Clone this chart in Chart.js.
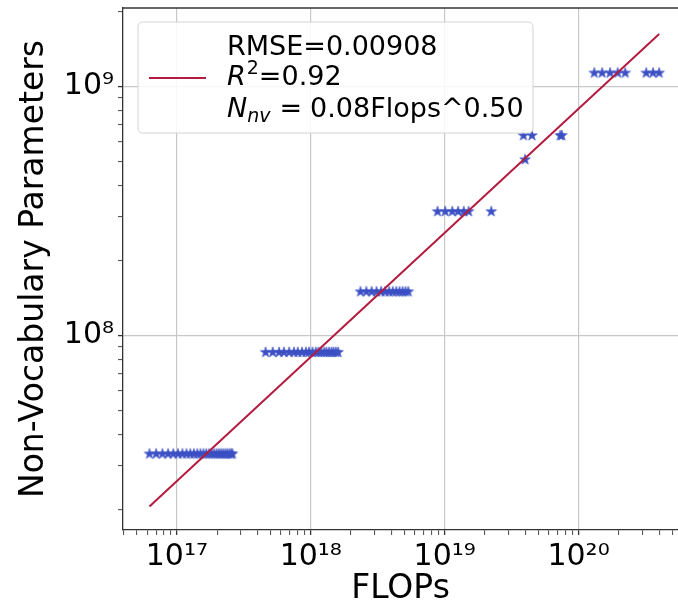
<!DOCTYPE html>
<html>
<head>
<meta charset="utf-8">
<script src="https://cdn.jsdelivr.net/npm/chart.js@4.4.1/dist/chart.umd.min.js"></script>
<style>
html,body{margin:0;padding:0;overflow:hidden;background:#ffffff;}
canvas{display:block;}
</style>
</head>
<body>
<canvas id="c" width="678" height="608"></canvas>
<script>
// ---- data (FLOPs, non-vocabulary parameters) ----
const flopsAt33M   = [6.24e16, 7.0e16, 7.8e16, 8.6e16, 9.4e16, 1.02e17, 1.10e17, 1.18e17, 1.26e17, 1.34e17, 1.42e17, 1.50e17, 1.58e17, 1.66e17, 1.74e17, 1.82e17, 1.90e17, 1.98e17, 2.06e17, 2.14e17, 2.22e17, 2.30e17, 2.38e17, 2.46e17, 2.54e17, 2.60e17];
const flopsAt86M   = [4.6e17, 5.2e17, 5.8e17, 6.3e17, 6.9e17, 7.5e17, 8.0e17, 8.6e17, 9.2e17, 9.7e17, 1.03e18, 1.09e18, 1.14e18, 1.20e18, 1.26e18, 1.31e18, 1.37e18, 1.43e18, 1.48e18, 1.54e18, 1.60e18];
const flopsAt150M  = [2.35e18, 2.6e18, 2.85e18, 3.1e18, 3.35e18, 3.6e18, 3.85e18, 4.1e18, 4.35e18, 4.6e18, 4.85e18, 5.1e18, 5.35e18];
const flopsAt315M  = [8.85e18, 1.01e19, 1.14e19, 1.26e19, 1.39e19, 1.51e19, 2.23e19];
const flopsAt640M  = [3.88e19, 4.49e19, 7.3e19, 7.5e19];
const flopsAt510M  = [3.99e19];
const flopsAt1135M = [1.31e20, 1.50e20, 1.72e20, 1.96e20, 2.23e20, 3.2e20, 3.6e20, 4.0e20];
const paramLevels  = [3.35e7, 8.57e7, 1.50e8, 3.15e8, 6.36e8, 5.09e8, 1.135e9];
const flopsGroups  = [flopsAt33M, flopsAt86M, flopsAt150M, flopsAt315M, flopsAt640M, flopsAt510M, flopsAt1135M];

// fitted line end points
const fitFlops  = [6.24e16, 4.0e20];
const fitParams = [2.05e7, 1.62e9];

// tick labels
const xMajorExponents = [17, 18, 19, 20];
const xTickLabels = ['10\u00B9\u2077', '10\u00B9\u2078', '10\u00B9\u2079', '10\u00B2\u2070'];
const yMajorExponents = [8, 9];
const yTickLabels = ['10\u2078', '10\u2079'];

const legendLines = ['RMSE=0.00908', 'R', '2', '=0.92', 'N', 'nv', '=', '0.08Flops^0.50'];

// ---- build datasets ----
const starPoints = [];
flopsGroups.forEach((g, i) => g.forEach(f => starPoints.push({x: f, y: paramLevels[i]})));
const fitPoints = fitFlops.map((f, i) => ({x: f, y: fitParams[i]}));

const STAR_COLOR = '#3c50c4';
const LINE_COLOR = '#b31b3f';
const GRID_COLOR = '#c8c8c8';
const AXIS_COLOR = '#333333';

function makeStar(color, R) {
  const s = Math.ceil(R * 2 + 2);
  const c = document.createElement('canvas');
  c.width = s; c.height = s;
  const g = c.getContext('2d');
  g.translate(s / 2, s / 2 + 0.5);
  g.beginPath();
  for (let i = 0; i < 10; i++) {
    const r = (i % 2 === 0) ? R : R * 0.382;
    const a = -Math.PI / 2 + i * Math.PI / 5;
    g.lineTo(r * Math.cos(a), r * Math.sin(a));
  }
  g.closePath();
  g.fillStyle = color; g.fill();
  g.strokeStyle = color; g.lineWidth = 0.6; g.stroke();
  return c;
}
const starImg = makeStar(STAR_COLOR, 5.6);

function isMajor(v) {
  const e = Math.round(Math.log10(v));
  return Math.abs(v / Math.pow(10, e) - 1) < 1e-9;
}
function logTicks(scale) {
  const min = scale.min, max = scale.max;
  const t = [];
  for (let e = Math.floor(Math.log10(min)); e <= Math.ceil(Math.log10(max)); e++) {
    for (let m = 1; m <= 9; m++) {
      const v = m * Math.pow(10, e);
      if (v >= min && v <= max) t.push({value: v, major: m === 1});
    }
  }
  scale.ticks = t;
}
function labelFor(exps, labels) {
  return function (value) {
    if (!isMajor(value)) return '';
    const e = Math.round(Math.log10(value));
    const k = exps.indexOf(e);
    return k >= 0 ? labels[k] : '';
  };
}
const gridColor = (ctx) => (ctx.tick && isMajor(ctx.tick.value)) ? GRID_COLOR : 'rgba(0,0,0,0)';
const tickWidth = (ctx) => (ctx.tick && isMajor(ctx.tick.value)) ? 1.3 : 0.9;

const frameAndLegend = {
  id: 'frameAndLegend',
  afterDraw(chart) {
    const {ctx, chartArea: a} = chart;
    ctx.save();
    // top spine (the right spine lies outside the picture)
    ctx.strokeStyle = AXIS_COLOR; ctx.lineWidth = 1.3;
    ctx.beginPath(); ctx.moveTo(a.left, a.top); ctx.lineTo(a.right, a.top); ctx.stroke();

    // legend box
    const x0 = a.left + 15, y0 = a.top + 14, w = 395, h = 111, r = 5;
    ctx.beginPath();
    ctx.moveTo(x0 + r, y0);
    ctx.lineTo(x0 + w - r, y0); ctx.quadraticCurveTo(x0 + w, y0, x0 + w, y0 + r);
    ctx.lineTo(x0 + w, y0 + h - r); ctx.quadraticCurveTo(x0 + w, y0 + h, x0 + w - r, y0 + h);
    ctx.lineTo(x0 + r, y0 + h); ctx.quadraticCurveTo(x0, y0 + h, x0, y0 + h - r);
    ctx.lineTo(x0, y0 + r); ctx.quadraticCurveTo(x0, y0, x0 + r, y0);
    ctx.closePath();
    ctx.fillStyle = 'rgba(255,255,255,0.85)'; ctx.fill();
    ctx.strokeStyle = '#d4d4d4'; ctx.lineWidth = 1; ctx.stroke();

    // handle
    ctx.strokeStyle = LINE_COLOR; ctx.lineWidth = 2;
    ctx.beginPath(); ctx.moveTo(x0 + 11, y0 + 56); ctx.lineTo(x0 + 68, y0 + 56); ctx.stroke();

    // texts
    const F = '"DejaVu Sans", sans-serif';
    const fs = 27, fsSmall = 19;
    const tx = x0 + 89;
    const b1 = y0 + 33, b2 = y0 + 63, b3 = y0 + 95;
    ctx.fillStyle = '#000000';
    ctx.textBaseline = 'alphabetic';
    ctx.textAlign = 'left';
    ctx.font = fs + 'px ' + F;
    ctx.fillText(legendLines[0], tx, b1);

    // R^2=0.92
    ctx.font = 'italic ' + fs + 'px ' + F;
    ctx.fillText(legendLines[1], tx, b2);
    let x = tx + ctx.measureText(legendLines[1]).width;
    ctx.font = fsSmall + 'px ' + F;
    ctx.fillText(legendLines[2], x + 1, b2 - 11);
    x += ctx.measureText(legendLines[2]).width + 1;
    ctx.font = fs + 'px ' + F;
    ctx.fillText(legendLines[3], x, b2);

    // N_nv = 0.08Flops^0.50
    ctx.font = 'italic ' + fs + 'px ' + F;
    ctx.fillText(legendLines[4], tx, b3);
    x = tx + ctx.measureText(legendLines[4]).width;
    ctx.font = 'italic ' + fsSmall + 'px ' + F;
    ctx.fillText(legendLines[5], x, b3 + 5);
    x += ctx.measureText(legendLines[5]).width + 9;
    ctx.font = fs + 'px ' + F;
    ctx.fillText(legendLines[6], x, b3);
    x += ctx.measureText(legendLines[6]).width + 8;
    ctx.fillText(legendLines[7], x, b3);
    ctx.restore();
  }
};

Chart.defaults.font.family = '"DejaVu Sans", sans-serif';
Chart.defaults.color = '#000000';

new Chart(document.getElementById('c'), {
  type: 'scatter',
  data: {
    datasets: [
      {
        label: 'fit',
        data: fitPoints,
        showLine: true,
        borderColor: LINE_COLOR,
        borderWidth: 2,
        pointRadius: 0,
        fill: false
      },
      {
        label: 'points',
        data: starPoints,
        pointStyle: starImg,
        pointRadius: 6,
        backgroundColor: STAR_COLOR,
        borderColor: STAR_COLOR
      }
    ]
  },
  options: {
    responsive: false,
    animation: false,
    devicePixelRatio: 1,
    events: [],
    layout: {autoPadding: false, padding: {top: 8, left: 0, right: 0, bottom: 0}},
    plugins: {legend: {display: false}, tooltip: {enabled: false}},
    scales: {
      x: {
        type: 'logarithmic',
        min: 3.96e16,
        max: 5.53e20,
        bounds: 'data',
        afterBuildTicks: logTicks,
        afterFit: (s) => { s.height = 78; s.paddingLeft = 0; s.paddingRight = 0; },
        ticks: {
          callback: labelFor(xMajorExponents, xTickLabels),
          autoSkip: false, maxRotation: 0, minRotation: 0,
          font: {size: 30}, color: '#000', padding: 4
        },
        grid: {color: gridColor, lineWidth: 1.2, tickColor: AXIS_COLOR, tickWidth: tickWidth, tickLength: 5, drawTicks: true},
        border: {display: true, color: AXIS_COLOR, width: 1.3},
        title: {display: true, text: 'FLOPs', font: {size: 33, lineHeight: 1.1}, color: '#000', padding: {top: 0, bottom: 0}}
      },
      y: {
        type: 'logarithmic',
        min: 1.65e7,
        max: 2.06e9,
        bounds: 'data',
        afterBuildTicks: logTicks,
        afterFit: (s) => { s.width = 123; s.paddingTop = 0; s.paddingBottom = 0; },
        ticks: {
          callback: labelFor(yMajorExponents, yTickLabels),
          autoSkip: false,
          font: {size: 30}, color: '#000', padding: 4
        },
        grid: {color: gridColor, lineWidth: 1.2, tickColor: AXIS_COLOR, tickWidth: tickWidth, tickLength: 5, drawTicks: true},
        border: {display: true, color: AXIS_COLOR, width: 1.3},
        title: {display: true, text: 'Non-Vocabulary Parameters', font: {size: 33, lineHeight: 1.2}, color: '#000', padding: {top: 15, bottom: 0}}
      }
    }
  },
  plugins: [frameAndLegend]
});
</script>
</body>
</html>
